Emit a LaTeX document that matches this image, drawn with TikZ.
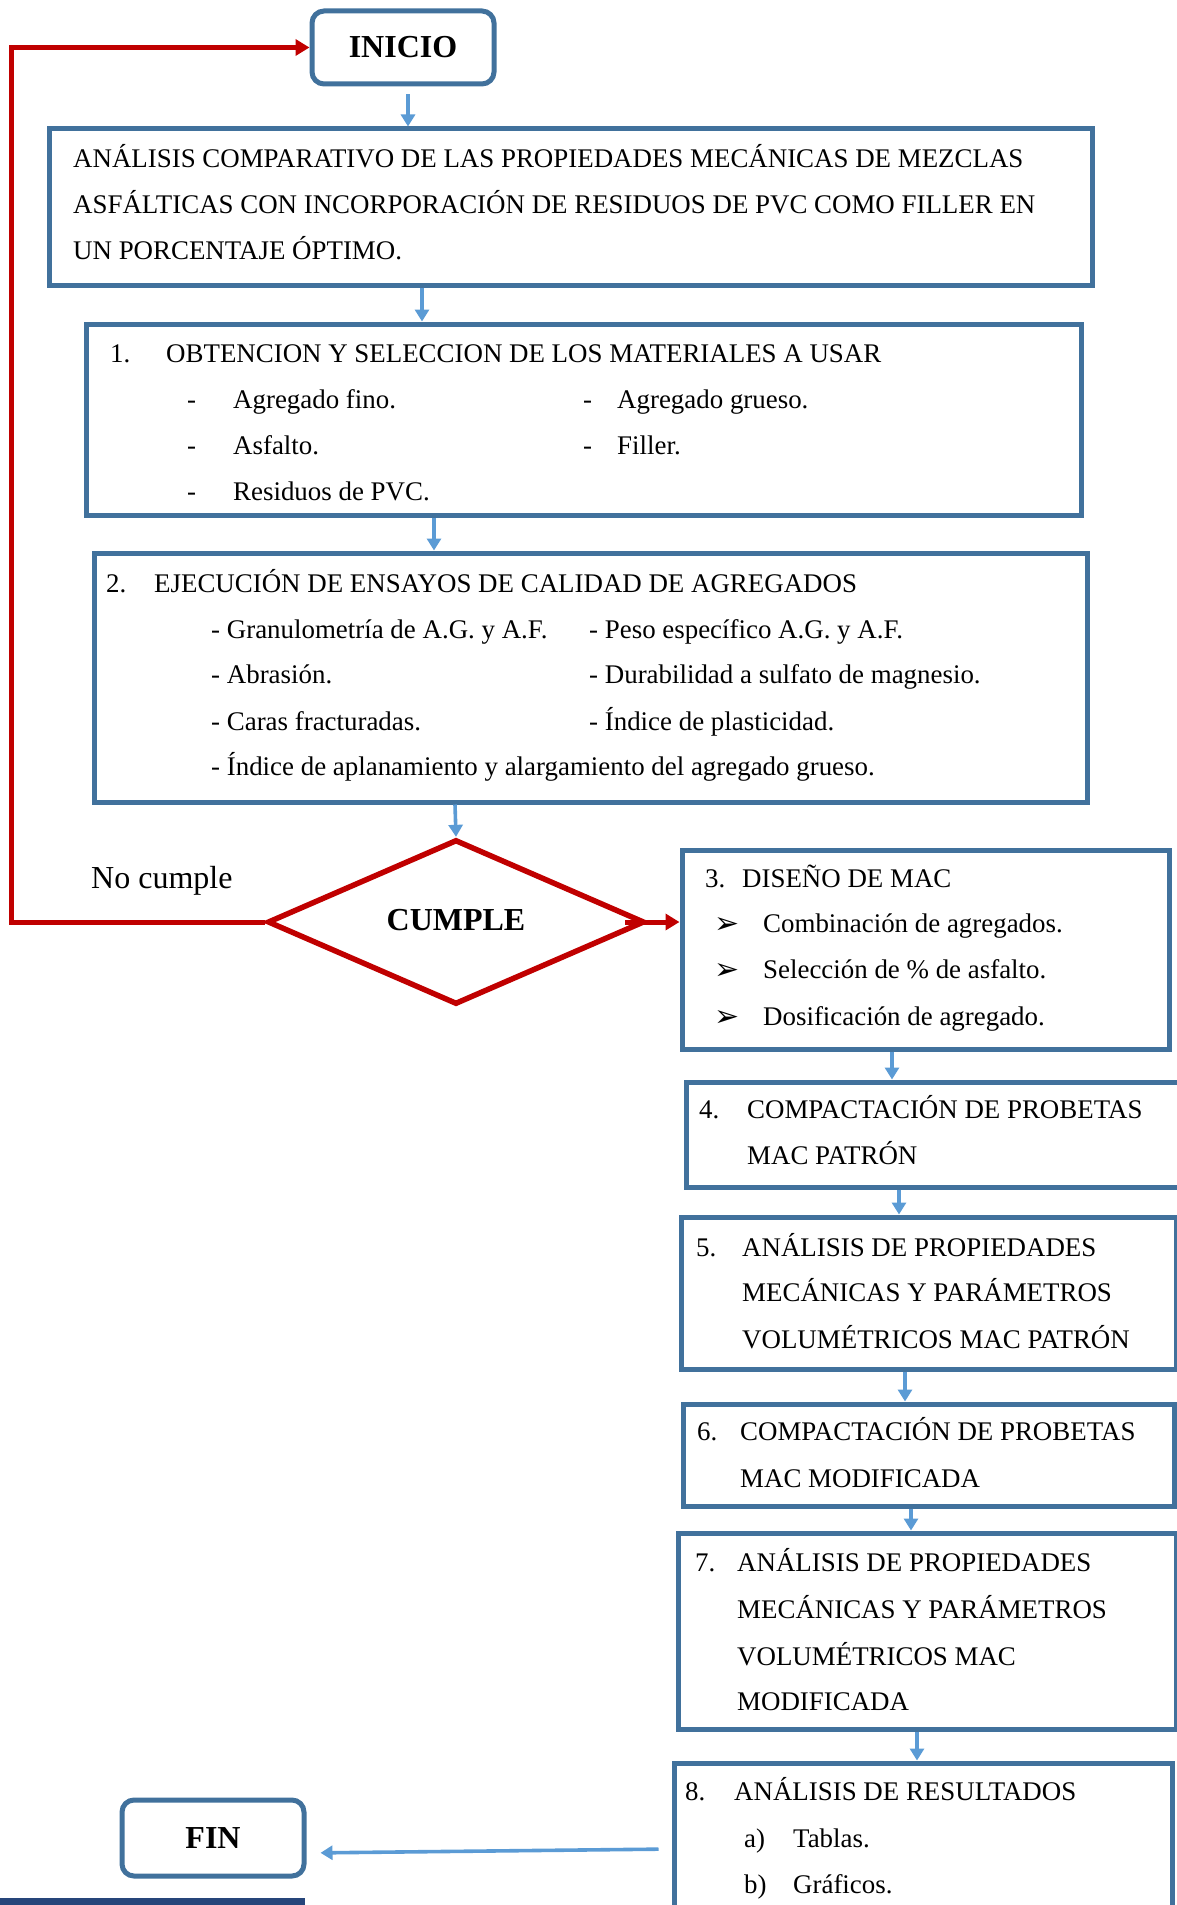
\documentclass[tikz,border=0pt]{standalone}
\usepackage{fontspec}
\setmainfont{Liberation Serif}
\newfontfamily\dejavu{DejaVu Sans}
\usetikzlibrary{arrows.meta,shapes.geometric}
\definecolor{boxblue}{RGB}{65,113,156}
\definecolor{arrblue}{RGB}{91,155,213}
\definecolor{redc}{RGB}{192,0,0}
\definecolor{barc}{RGB}{38,69,122}
\tikzset{
  box/.style={draw=boxblue, line width=5pt, rectangle, inner sep=0pt},
  term/.style={box, rounded corners=12pt, font=\bfseries\fontsize{32}{36}\selectfont},
  txt/.style={anchor=base west, inner sep=0pt, font=\fontsize{26.9}{31}\selectfont},
  bul/.style={anchor=base west, inner sep=0pt, font=\dejavu\fontsize{30}{34}\selectfont},
  barrow/.style={draw=arrblue, line width=3.6pt, -{Triangle[length=12pt,width=14pt]}},
  rline/.style={draw=redc, line width=5pt},
  rarrow/.style={rline, -{Triangle[length=14pt,width=16pt]}},
}
\begin{document}
\begin{tikzpicture}[x=1pt,y=-1pt]
\useasboundingbox (0,0) rectangle (1177,1905);
\clip (0,0) rectangle (1177,1905);

% terminals and boxes
\node[term, minimum width=182pt, minimum height=73pt] (inicio) at (403,47.5) {INICIO};
\node[box, minimum width=1043pt, minimum height=156pt] (title) at (570.5,207) {};
\node[box, minimum width=995pt, minimum height=191pt] (b1) at (583.5,419.5) {};
\node[box, minimum width=993pt, minimum height=249pt] (b2) at (590.5,677.5) {};
\node[diamond, draw=redc, line width=5.5pt, inner sep=0pt, minimum width=377pt, minimum height=160pt,
      font=\bfseries\fontsize{32}{36}\selectfont] (dia) at (456,922) {\raisebox{5pt}{CUMPLE}};
\node[box, minimum width=487pt, minimum height=199pt] (b3) at (925.5,949.5) {};
\node[box, minimum width=514pt, minimum height=105pt] (b4) at (943,1134.5) {};
\node[box, minimum width=495pt, minimum height=152pt] (b5) at (928.5,1293) {};
\node[box, minimum width=491pt, minimum height=102pt] (b6) at (928.5,1455) {};
\node[box, minimum width=498pt, minimum height=196pt] (b7) at (927,1631) {};
\node[box, minimum width=498pt, minimum height=177pt] (b8) at (923,1851.5) {};
\node[term, minimum width=182pt, minimum height=76pt] (fin) at (213,1838) {FIN};

% title text
\node[txt] (t1) at (73,168) {ANÁLISIS COMPARATIVO DE LAS PROPIEDADES MECÁNICAS DE MEZCLAS};
\node[txt] (t2) at (73,213) {ASFÁLTICAS CON INCORPORACIÓN DE RESIDUOS DE PVC COMO FILLER EN};
\node[txt] (t3) at (73,259) {UN PORCENTAJE ÓPTIMO.};

% box 1
\node[txt] (n1) at (110,362) {1.};
\node[txt] (h1) at (166,362) {OBTENCION Y SELECCION DE LOS MATERIALES A USAR};
\node[txt] (d11) at (187,408) {-};
\node[txt] (i11) at (233,408) {Agregado fino.};
\node[txt] (d12) at (583,408) {-};
\node[txt] (i12) at (617,408) {Agregado grueso.};
\node[txt] (d13) at (187,454) {-};
\node[txt] (i13) at (233,454) {Asfalto.};
\node[txt] (d14) at (583,454) {-};
\node[txt] (i14) at (617,454) {Filler.};
\node[txt] (d15) at (187,500) {-};
\node[txt] (i15) at (233,500) {Residuos de PVC.};

% box 2
\node[txt] (n2) at (106,592) {2.};
\node[txt] (h2) at (154,592) {EJECUCIÓN DE ENSAYOS DE CALIDAD DE AGREGADOS};
\node[txt] (i21) at (211,638) {- Granulometría de A.G. y A.F.};
\node[txt] (i22) at (589,638) {- Peso específico A.G. y A.F.};
\node[txt] (i23) at (211,683) {- Abrasión.};
\node[txt] (i24) at (589,683) {- Durabilidad a sulfato de magnesio.};
\node[txt] (i25) at (211,730) {- Caras fracturadas.};
\node[txt] (i26) at (589,730) {- Índice de plasticidad.};
\node[txt] (i27) at (211,775) {- Índice de aplanamiento y alargamiento del agregado grueso.};

% no cumple
\node[anchor=base west, inner sep=0pt, font=\fontsize{32}{36}\selectfont] (nc) at (91,888) {No cumple};

% box 3
\node[txt] (n3) at (705,887) {3.};
\node[txt] (h3) at (742,887) {DISEÑO DE MAC};
\node[bul] (k31) at (714,933) {➢};
\node[txt] (i31) at (763,932) {Combinación de agregados.};
\node[bul] (k32) at (714,979) {➢};
\node[txt] (i32) at (763,978) {Selección de \% de asfalto.};
\node[bul] (k33) at (714,1026) {➢};
\node[txt] (i33) at (763,1025) {Dosificación de agregado.};

% box 4
\node[txt] (n4) at (699,1118) {4.};
\node[txt] (h4a) at (747,1118) {COMPACTACIÓN DE PROBETAS};
\node[txt] (h4b) at (747,1164) {MAC PATRÓN};

% box 5
\node[txt] (n5) at (696,1256) {5.};
\node[txt] (h5a) at (742,1256) {ANÁLISIS DE PROPIEDADES};
\node[txt] (h5b) at (742,1301) {MECÁNICAS Y PARÁMETROS};
\node[txt] (h5c) at (742,1348) {VOLUMÉTRICOS MAC PATRÓN};

% box 6
\node[txt] (n6) at (697,1440) {6.};
\node[txt] (h6a) at (740,1440) {COMPACTACIÓN DE PROBETAS};
\node[txt] (h6b) at (740,1487) {MAC MODIFICADA};

% box 7
\node[txt] (n7) at (695,1571) {7.};
\node[txt] (h7a) at (737,1571) {ANÁLISIS DE PROPIEDADES};
\node[txt] (h7b) at (737,1618) {MECÁNICAS Y PARÁMETROS};
\node[txt] (h7c) at (737,1665) {VOLUMÉTRICOS MAC};
\node[txt] (h7d) at (737,1710) {MODIFICADA};

% box 8
\node[txt] (n8) at (685,1800) {8.};
\node[txt] (h8) at (734,1800) {ANÁLISIS DE RESULTADOS};
\node[txt] (la) at (744,1847) {a)};
\node[txt] (i81) at (793,1847) {Tablas.};
\node[txt] (lb) at (744,1893) {b)};
\node[txt] (i82) at (793,1893) {Gráficos.};

% blue connectors
\draw[barrow, shorten <=8pt] ([xshift=5pt]inicio.south) -- ([xshift=-162.5pt]title.north);
\draw[barrow] ([xshift=-148.5pt]title.south) -- ([xshift=-161.5pt]b1.north);
\draw[barrow] ([xshift=-149.5pt]b1.south) -- ([xshift=-156.5pt]b2.north);
\draw[barrow] ([xshift=-135.5pt]b2.south) -- (dia.north);
\draw[barrow] ([xshift=-33.5pt]b3.south) -- ([xshift=-51pt]b4.north);
\draw[barrow] ([xshift=-44pt]b4.south) -- ([xshift=-29.5pt]b5.north);
\draw[barrow] ([xshift=-23.5pt]b5.south) -- ([xshift=-23.5pt]b6.north);
\draw[barrow] ([xshift=-17.5pt]b6.south) -- ([xshift=-16pt]b7.north);
\draw[barrow] ([xshift=-10pt]b7.south) -- ([xshift=-6pt]b8.north);
\draw[barrow, shorten <=13pt, shorten >=14pt] ([yshift=2.5pt]b8.west) -- ([yshift=-15pt]fin.east);

% red connectors
\coordinate (loopx) at (11,0);
\draw[rarrow] (dia.west) -- (dia.west -| loopx) |- (inicio.west);
\draw[rarrow] ([xshift=-22pt]dia.east) -- (dia.east -| b3.west);

% bottom bar
\fill[barc] (0,1898) rectangle (305,1910);
\end{tikzpicture}
\end{document}
